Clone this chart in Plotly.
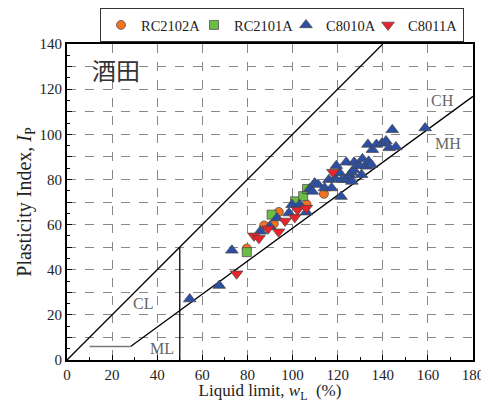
import plotly.graph_objects as go

# ---- data ----
rc2102a_wl = [79.7, 87.4, 91.7, 93.9, 106.2, 113.9]
rc2102a_ip = [49.4, 59.6, 60.4, 65.6, 69.0, 73.6]

rc2101a_wl = [79.7, 90.7, 101.1, 104.7, 106.4]
rc2101a_ip = [47.8, 64.4, 70.3, 72.6, 75.8]

c8010a_wl = [54.4, 67.5, 73.1, 85.7, 89.9, 93.1, 98.4, 99.8, 103.1, 106.1,
             107.6, 108.8, 109.8, 111.3, 114.2, 117.3, 116.1, 118.9, 120.9, 121.9,
             121.5, 123.8, 123.8, 125.3, 126.3, 126.1, 127.3, 127.1, 119.4, 129.7,
             130.6, 131.0, 132.7, 133.7, 134.9, 133.4, 135.4, 137.2, 139.6, 141.4,
             142.8, 145.8, 144.2, 158.8]
c8010a_ip = [27.0, 33.0, 48.6, 57.0, 59.2, 62.9, 65.1, 68.8, 68.8, 65.5,
             75.8, 74.7, 78.4, 77.7, 76.2, 76.2, 79.9, 80.4, 82.9, 79.9,
             72.4, 87.6, 79.9, 81.8, 79.1, 83.1, 87.6, 84.3, 86.1, 86.1,
             82.1, 89.1, 85.8, 88.0, 86.5, 95.5, 93.2, 95.5, 96.0, 97.0,
             94.0, 94.4, 102.0, 102.8]

c8011a_wl = [75.2, 82.9, 85.1, 89.1, 93.8, 96.7, 101.0, 102.2, 106.1, 117.9]
c8011a_ip = [38.2, 55.0, 53.9, 58.1, 56.8, 61.6, 63.2, 66.5, 67.3, 83.2]

# reference lines of the plasticity chart
uline_x = [0, 140]
uline_y = [0, 140]
aline_x = [28.2, 180]
aline_y = [6.0, 116.8]
lowline_x = [10, 28.2]
lowline_y = [6, 6]
vline_x = [50, 50]
vline_y = [0, 50]

zone_labels = ["CL", "ML", "CH", "MH"]
zone_x = [33.5, 42, 166.5, 168.8]
zone_y = [25, 5, 115, 96]

xticks = list(range(0, 181, 20))
yticks = list(range(0, 141, 10))
yticktext = [str(v) if v % 20 == 0 else "" for v in yticks]

SERIF = "Liberation Serif"

fig = go.Figure()

# lines
fig.add_trace(go.Scatter(x=uline_x, y=uline_y, mode="lines",
                         line=dict(color="black", width=1.3), showlegend=False, hoverinfo="skip"))
fig.add_trace(go.Scatter(x=aline_x, y=aline_y, mode="lines",
                         line=dict(color="black", width=1.3), showlegend=False, hoverinfo="skip"))
fig.add_trace(go.Scatter(x=lowline_x, y=lowline_y, mode="lines",
                         line=dict(color="#777777", width=1.5), showlegend=False, hoverinfo="skip"))
fig.add_trace(go.Scatter(x=vline_x, y=vline_y, mode="lines",
                         line=dict(color="black", width=1.3), showlegend=False, hoverinfo="skip"))

mk_line = dict(color="#444444", width=0.7)
fig.add_trace(go.Scatter(x=rc2102a_wl, y=rc2102a_ip, mode="markers", name="RC2102A",
                         legendwidth=48,
                         marker=dict(symbol="circle", size=9, color="#f37321", line=mk_line)))
fig.add_trace(go.Scatter(x=rc2101a_wl, y=rc2101a_ip, mode="markers", name="RC2101A",
                         legendwidth=47,
                         marker=dict(symbol="square", size=9, color="#6cbd45", line=mk_line)))
fig.add_trace(go.Scatter(x=c8010a_wl, y=c8010a_ip, mode="markers", name="C8010A",
                         legendwidth=37,
                         marker=dict(symbol="triangle-up", size=11, color="#2d4fa3", line=mk_line)))
fig.add_trace(go.Scatter(x=c8011a_wl, y=c8011a_ip, mode="markers", name="C8011A",
                         marker=dict(symbol="triangle-down", size=11, color="#e8232a", line=mk_line)))

# zone labels
for t, x, y in zip(zone_labels, zone_x, zone_y):
    fig.add_annotation(x=x, y=y, text=t, showarrow=False,
                       font=dict(family=SERIF, size=16, color="#666666"))

fig.add_annotation(x=21.8, y=128.6, text="酒田", showarrow=False,
                   font=dict(family="Noto Sans CJK JP", size=24, color="#333333"))

fig.update_layout(
    width=481, height=403,
    margin=dict(l=67, r=8, t=44, b=43, autoexpand=False),
    paper_bgcolor="white", plot_bgcolor="white",
    font=dict(family=SERIF, size=15, color="#222222"),
    legend=dict(orientation="h", xref="container", yref="container",
                x=464 / 481, xanchor="right", y=1 - 8 / 403, yanchor="top",
                bordercolor="#333333", borderwidth=1, font=dict(family=SERIF, size=14.5),
                itemwidth=30, tracegroupgap=0),
    xaxis=dict(range=[0, 180], tickvals=xticks, showline=True, linecolor="black", linewidth=2,
               mirror=True, ticks="inside", ticklen=5, tickcolor="black",
               ticklabeloverflow="allow", automargin=False,
               showgrid=True, gridcolor="#888888", griddash="dash", gridwidth=1,
               zeroline=False,
               minor=dict(dtick=10, ticks="inside", ticklen=3, tickcolor="black", showgrid=False),
               title=dict(text="Liquid limit, <i>w</i><sub>L</sub>  (%)", font=dict(size=17), standoff=5)),
    yaxis=dict(range=[0, 140], tickvals=yticks, ticktext=yticktext, showline=True, linecolor="black",
               linewidth=2, mirror=True, ticks="inside", ticklen=5, tickcolor="black",
               automargin=False,
               showgrid=True, gridcolor="#888888", griddash="dash", gridwidth=1,
               zeroline=False,
               minor=dict(dtick=5, ticks="inside", ticklen=3, tickcolor="black", showgrid=False),
               title=dict(text="Plasticity Index, <i>I</i><sub>P</sub>", font=dict(size=20), standoff=3)),
)

fig.write_html("out.html")
